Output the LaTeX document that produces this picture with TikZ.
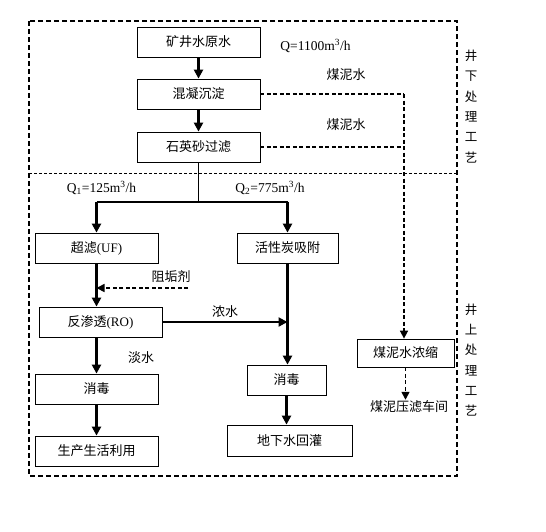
\documentclass[tikz,border=0pt]{standalone}
\usepackage{fontspec}
\setmainfont{Liberation Serif}
\newfontfamily\cjk{Noto Sans CJK SC}
\usepackage{tikz}
\usetikzlibrary{positioning,arrows.meta}

\begin{document}
\begin{tikzpicture}[x=1pt, y=-1pt,
  box/.style={draw, line width=0.8pt, minimum height=30pt, inner sep=0pt, font=\cjk\fontsize{13}{15}\selectfont},
  txt/.style={inner sep=1pt, font=\cjk\fontsize{13}{15}\selectfont},
  qtxt/.style={inner sep=1pt, font=\rmfamily\fontsize{13.5}{15}\selectfont},
  side/.style={align=center, inner sep=0pt, font=\cjk\fontsize{12.5}{20.3}\selectfont},
  flow/.style={line width=2.5pt, -{Triangle[length=9pt,width=9pt]}},
  split/.style={line width=1.5pt},
  sludge/.style={line width=1.6pt, dash pattern=on 4pt off 2.5pt},
  sludgeflow/.style={sludge, -{Triangle[length=8pt,width=8pt]}},
  frame/.style={line width=1.2pt, dash pattern=on 5pt off 3pt},
  divider/.style={line width=0.6pt, dash pattern=on 3pt off 2pt}]
\useasboundingbox (0,0) rectangle (546,531);
\draw[frame] (29,21) rectangle (457,476);
\draw[divider] (29,173) -- (457,173);

\node[box, minimum width=123pt] at (198.5,42) (raw) {矿井水原水};
\node[box, minimum width=123pt] at (198.5,94) (mix) {混凝沉淀};
\node[box, minimum width=123pt] at (198.5,147) (sand) {石英砂过滤};
\node[box, minimum width=123pt] at (96.5,248) (uf) {超滤{\rmfamily(UF)}};
\node[box, minimum width=101pt] at (287.5,248) (carbon) {活性炭吸附};
\node[box, minimum width=123pt] at (100.5,322) (ro) {反渗透{\rmfamily(RO)}};
\node[box, minimum width=123pt] at (96.5,389) (disL) {消毒};
\node[box, minimum width=123pt] at (96.5,451) (use) {生产生活利用};
\node[box, minimum width=79pt] at (286.5,380) (disR) {消毒};
\node[box, minimum width=125pt, minimum height=31pt] at (289.5,440.5) (inject) {地下水回灌};
\node[box, minimum width=97pt, minimum height=28pt] at (405.5,353) (thicken) {煤泥水浓缩};
\node[txt] at (409,407) (press) {煤泥压滤车间};

\node[qtxt] at (315.5,46) (qin) {Q=1100m\textsuperscript{3}/h};
\node[qtxt] at (101.5,188) (q1) {Q\textsubscript{1}=125m\textsuperscript{3}/h};
\node[qtxt] at (270,188) (q2) {Q\textsubscript{2}=775m\textsuperscript{3}/h};
\node[txt] at (346,75) (mud1) {煤泥水};
\node[txt] at (346,125) (mud2) {煤泥水};
\node[txt] at (171,277) (scale) {阻垢剂};
\node[txt] at (225,312) (brine) {浓水};
\node[txt] at (141,358) (fresh) {淡水};
\node[side] at (471,106.5) (under) {井\\下\\处\\理\\工\\艺};
\node[side] at (471,360) (above) {井\\上\\处\\理\\工\\艺};

\coordinate (split) at (198.5,202);
\coordinate (drop) at (404,94);
\coordinate (dose) at (188,288);

\draw[flow] (raw) -- (mix);
\draw[flow] (mix) -- (sand);
\draw[line width=0.8pt] (sand.south) -- (split);
\draw[split] (uf.north |- split) -- (carbon.north |- split);
\draw[flow] (uf.north |- split) -- (uf.north);
\draw[flow] (carbon.north |- split) -- (carbon.north);
\draw[flow] (uf.south) -- (uf.south |- ro.north);
\draw[sludgeflow] (dose) -- (dose -| uf.south);
\draw[flow] (ro.east) -- (ro.east -| carbon.south);
\draw[flow] (carbon.south) -- (carbon.south |- disR.north);
\draw[flow] (disR.south) -- (disR.south |- inject.north);
\draw[flow] (uf.south |- ro.south) -- (uf.south |- disL.north);
\draw[flow] (disL) -- (use);
\draw[sludge] (mix.east) -- (drop);
\draw[sludge] (sand.east) -- (sand.east -| drop);
\draw[sludgeflow] (drop) -- (drop |- thicken.north);
\draw[sludgeflow] (thicken.south) -- (thicken.south |- press.north);
\end{tikzpicture}
\end{document}
